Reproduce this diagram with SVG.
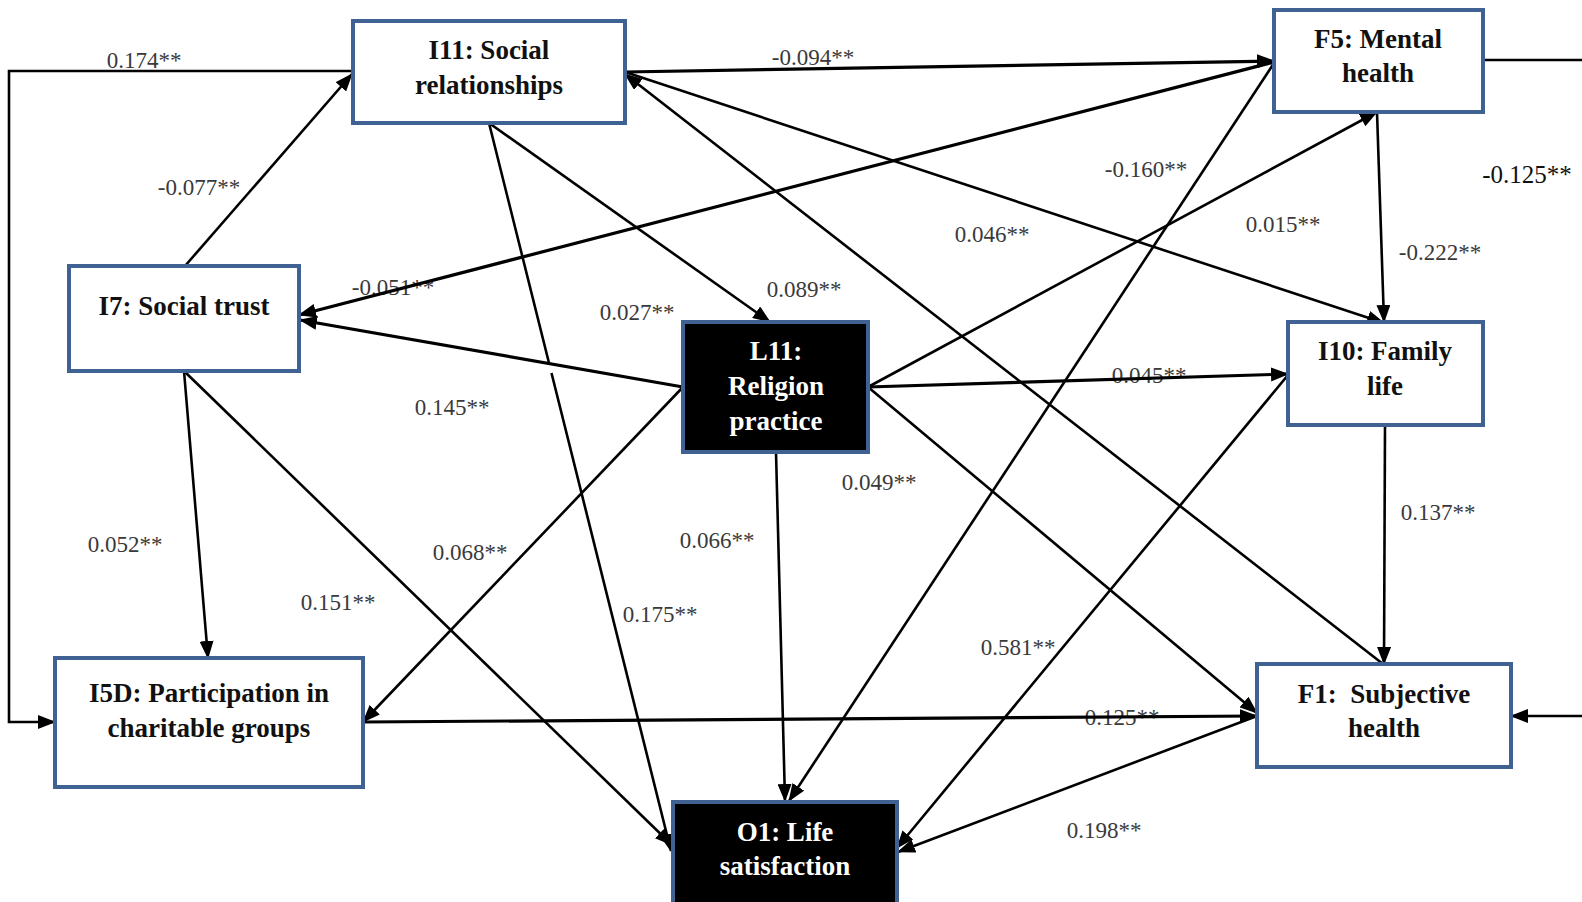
<svg xmlns="http://www.w3.org/2000/svg" width="1582" height="902" viewBox="0 0 1582 902">
<defs>
<style>
.node{fill:#fff;stroke:#3F6292;stroke-width:4}
.dark{fill:#000;stroke:#3F6292;stroke-width:4}
.nt{font-family:"Liberation Serif","Times New Roman",serif;font-weight:bold;font-size:27px;fill:#111;text-anchor:middle;white-space:pre}
.wt{font-family:"Liberation Serif","Times New Roman",serif;font-weight:bold;font-size:27px;fill:#fff;text-anchor:middle}
.lb{font-family:"Liberation Serif","Times New Roman",serif;font-size:23px;fill:#3a3a3a;text-anchor:middle}
.e{fill:none;stroke:#000;stroke-width:2.6;marker-end:url(#ah)}
.ek{fill:none;stroke:#000;stroke-width:3.2;marker-end:url(#ah)}
.en{fill:none;stroke:#000;stroke-width:2.6}
</style>
<marker id="ah" markerUnits="userSpaceOnUse" markerWidth="18" markerHeight="14" refX="17" refY="7" orient="auto">
<path d="M0,0 L18,7 L0,14 z" fill="#000"/>
</marker>
</defs>
<rect width="1582" height="902" fill="#fff"/>
<g id="labels">
<text class="lb" x="144" y="68">0.174**</text>
<text class="lb" x="199" y="195">-0.077**</text>
<text class="lb" x="393" y="295">-0.051**</text>
<text class="lb" x="637" y="320">0.027**</text>
<text class="lb" x="804" y="297">0.089**</text>
<text class="lb" x="813" y="65">-0.094**</text>
<text class="lb" x="1146" y="177">-0.160**</text>
<text class="lb" x="992" y="242">0.046**</text>
<text class="lb" x="1283" y="232">0.015**</text>
<text class="lb" x="1527" y="183" style="font-size:25px;fill:#111">-0.125**</text>
<text class="lb" x="1440" y="260">-0.222**</text>
<text class="lb" x="1149" y="383">0.045**</text>
<text class="lb" x="452" y="415">0.145**</text>
<text class="lb" x="125" y="552">0.052**</text>
<text class="lb" x="470" y="560">0.068**</text>
<text class="lb" x="338" y="610">0.151**</text>
<text class="lb" x="717" y="548">0.066**</text>
<text class="lb" x="660" y="622">0.175**</text>
<text class="lb" x="879" y="490">0.049**</text>
<text class="lb" x="1018" y="655">0.581**</text>
<text class="lb" x="1122" y="725">0.125**</text>
<text class="lb" x="1104" y="838">0.198**</text>
<text class="lb" x="1438" y="520">0.137**</text>
</g>
<g id="connectors">
<path class="e" d="M353,71 H9 V722 H55"/>
<path class="e" d="M185,266 L352,74"/>
<path class="ek" d="M625,72 L1274,61"/>
<path class="e" d="M625,72 L1384,323"/>
<path class="e" d="M1383,664 L625,74"/>
<path class="ek" d="M1274,62 L299,315"/>
<path class="ek" d="M683,387 L300,320"/>
<path class="e" d="M489,123 L770,322"/>
<path class="e" d="M489,123 L549,363 M551.5,373 L671,851"/>
<path class="e" d="M184,371 L208,658"/>
<path class="e" d="M184,371 L672,845"/>
<path class="e" d="M683,387 L363,722"/>
<path class="e" d="M776,452 L785,801"/>
<path class="e" d="M868,387 L1377,112"/>
<path class="ek" d="M868,387 L1288,374"/>
<path class="e" d="M868,387 L1257,713"/>
<path class="e" d="M1274,63 L789,801"/>
<path class="e" d="M1288,375 L897,848"/>
<path class="e" d="M1257,716 L898,852"/>
<path class="ek" d="M363,722 L1257,716"/>
<path class="e" d="M1377,112 L1384,322"/>
<path class="e" d="M1385,425 L1384,664"/>
<path class="en" d="M1483,60 H1582"/>
<path class="e" d="M1582,716 H1511"/>
</g>
<g id="I11">
<rect class="node" x="353" y="21" width="272" height="102"/>
<text class="nt" x="489" y="59">I11: Social</text>
<text class="nt" x="489" y="94">relationships</text>
</g>
<g id="F5">
<rect class="node" x="1274" y="10" width="209" height="102"/>
<text class="nt" x="1378" y="48">F5: Mental</text>
<text class="nt" x="1378" y="82">health</text>
</g>
<g id="I7">
<rect class="node" x="69" y="266" width="230" height="105"/>
<text class="nt" x="184" y="315">I7: Social trust</text>
</g>
<g id="L11">
<rect class="dark" x="683" y="322" width="185" height="130"/>
<text class="wt" x="776" y="360">L11:</text>
<text class="wt" x="776" y="395">Religion</text>
<text class="wt" x="776" y="430">practice</text>
</g>
<g id="I10">
<rect class="node" x="1288" y="322" width="195" height="103"/>
<text class="nt" x="1385" y="360">I10: Family</text>
<text class="nt" x="1385" y="395">life</text>
</g>
<g id="I5D">
<rect class="node" x="55" y="658" width="308" height="129"/>
<text class="nt" x="209" y="702">I5D: Participation in</text>
<text class="nt" x="209" y="737">charitable groups</text>
</g>
<g id="F1">
<rect class="node" x="1257" y="664" width="254" height="103"/>
<text class="nt" x="1384" y="703">F1:  Subjective</text>
<text class="nt" x="1384" y="737">health</text>
</g>
<g id="O1">
<rect class="dark" x="673" y="802" width="224" height="104"/>
<text class="wt" x="785" y="841">O1: Life</text>
<text class="wt" x="785" y="875">satisfaction</text>
</g>
</svg>
